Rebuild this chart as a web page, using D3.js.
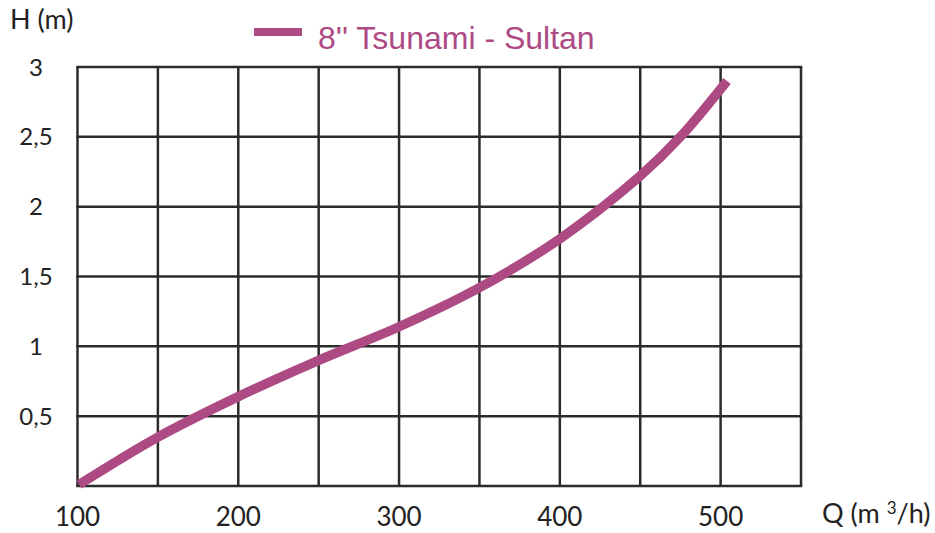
<!DOCTYPE html>
<html>
<head>
<meta charset="utf-8">
<script src="https://cdn.jsdelivr.net/npm/d3@7"></script>
<style>
  body { margin: 0; background: #fff; }
  svg { display: block; }
</style>
</head>
<body>
<svg width="935" height="533"></svg>
<script>
const width = 935;
const height = 533;

// curve
const flow = [101, 150, 200, 250, 300, 350, 400, 450, 475, 504];
const head = [0.01, 0.35, 0.64, 0.90, 1.14, 1.42, 1.77, 2.22, 2.50, 2.90];

const xGrid = [100, 150, 200, 250, 300, 350, 400, 450, 500, 550];
const xTicks = [100, 200, 300, 400, 500];
const yGrid = [0, 0.5, 1, 1.5, 2, 2.5, 3];
const yTicks = [0.5, 1, 1.5, 2, 2.5, 3];

const seriesName = "8'' Tsunami - Sultan";
const pink = "#ad4a83";
const ink = "#2b2b2b";

const svg = d3.select("svg");

const x = d3.scaleLinear().domain([100, 550]).range([77.5, 801]);
const y = d3.scaleLinear().domain([0, 3]).range([486, 67]);

const fmt = d => String(d).replace(".", ",");

// grid
svg.append("g").selectAll("line")
  .data(xGrid)
  .enter().append("line")
  .attr("x1", d => x(d)).attr("x2", d => x(d))
  .attr("y1", y(0)).attr("y2", y(3))
  .attr("stroke", ink)
  .attr("stroke-width", 2.5);

svg.append("g").selectAll("line")
  .data(yGrid)
  .enter().append("line")
  .attr("x1", x(100) - 1.25).attr("x2", x(550) + 1.25)
  .attr("y1", d => y(d)).attr("y2", d => y(d))
  .attr("stroke", ink)
  .attr("stroke-width", 2.5);

// tick labels
svg.append("g").selectAll("text")
  .data(yTicks)
  .enter().append("text")
  .attr("x", 36)
  .attr("y", d => y(d))
  .attr("dy", "0.36em")
  .attr("text-anchor", "middle")
  .style("font-family", "Lato, sans-serif")
  .style("font-size", "24px")
  .attr("fill", "#222")
  .text(fmt);

svg.append("g").selectAll("text")
  .data(xTicks)
  .enter().append("text")
  .attr("x", d => x(d))
  .attr("y", 526)
  .attr("text-anchor", "middle")
  .style("font-family", "Lato, sans-serif")
  .style("font-size", "26px")
  .attr("fill", "#222")
  .text(d => d);

// axis titles
svg.append("text")
  .attr("x", 10).attr("y", 29)
  .style("font-family", "Lato, sans-serif")
  .style("font-size", "27px")
  .attr("fill", "#222")
  .text("H (m)");

const qt = svg.append("text")
  .attr("x", 822).attr("y", 523)
  .style("font-family", "Lato, sans-serif")
  .style("font-size", "27px")
  .attr("fill", "#222");
qt.append("tspan").text("Q (m ");
qt.append("tspan").attr("dy", -9).style("font-size", "17px").text("3");
qt.append("tspan").attr("dy", 9).text("/h)");

// legend
svg.append("line")
  .attr("x1", 254).attr("x2", 302)
  .attr("y1", 32).attr("y2", 32)
  .attr("stroke", pink)
  .attr("stroke-width", 8);

svg.append("text")
  .attr("x", 318).attr("y", 49)
  .style("font-family", "'Liberation Sans', Arial, sans-serif")
  .style("font-size", "32px")
  .attr("fill", pink)
  .text(seriesName);

// curve
const pts = flow.map((q, i) => [q, head[i]]);
const line = d3.line()
  .x(d => x(d[0]))
  .y(d => y(d[1]))
  .curve(d3.curveCatmullRom.alpha(0.5));

svg.append("path")
  .datum(pts)
  .attr("d", line)
  .attr("fill", "none")
  .attr("stroke", pink)
  .attr("stroke-width", 9.5)
  .attr("stroke-linecap", "butt");
</script>
</body>
</html>
